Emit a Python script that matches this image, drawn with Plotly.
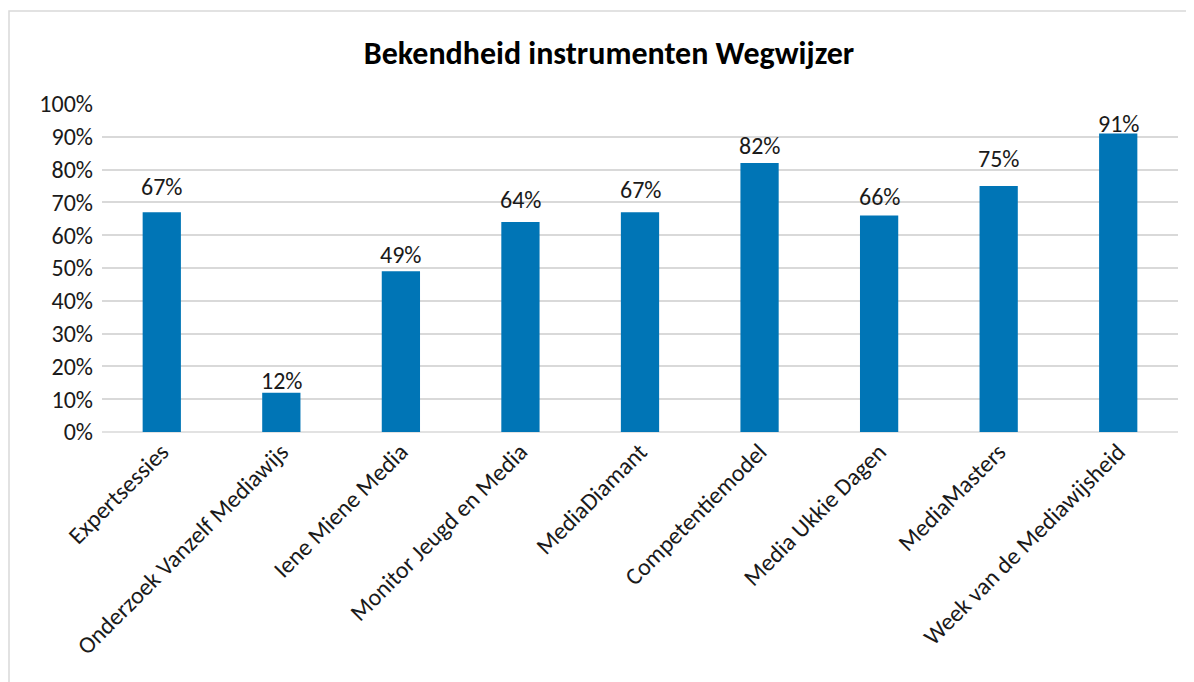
import plotly.graph_objects as go

categories = ["Expertsessies", "Onderzoek Vanzelf Mediawijs", "Iene Miene Media",
              "Monitor Jeugd en Media", "MediaDiamant", "Competentiemodel",
              "Media Ukkie Dagen", "MediaMasters", "Week van de Mediawijsheid"]
values = [0.67, 0.12, 0.49, 0.64, 0.67, 0.82, 0.66, 0.75, 0.91]
title_text = "Bekendheid instrumenten Wegwijzer"
tick_vals = [i / 10 for i in range(11)]
tick_text = [f"{i*10}%" for i in range(11)]
# gap (px) between bar top and label baseline, as placed in the reference
label_gaps = [17, 4, 8, 14, 14, 9, 11, 19, 2]

OFF = 8  # page body margin
W, H = 1194 - OFF, 682 - OFF
L, R, T, B = 102 - OFF, 1178 - OFF, 104 - OFF, 432 - OFF
pw, ph = R - L, B - T

def px(x):
    return (x - L) / pw

def py(y):
    return (B - y) / ph

font_fam = "Carlito, Calibri, Lato, sans-serif"

fig = go.Figure(go.Bar(
    x=categories, y=values,
    marker=dict(color="#0075B6", line=dict(width=0)),
    width=0.32,
    hoverinfo="x+y",
))

for c, v, g in zip(categories, values, label_gaps):
    fig.add_annotation(x=c, y=v, xref="x", yref="y", text=f"{round(v*100)}%",
                       showarrow=False, yanchor="bottom", xanchor="center",
                       yshift=g - 7, borderpad=0,
                       font=dict(family=font_fam, size=24, color="#1a1a1a"))

fig.update_layout(
    width=W, height=H,
    margin=dict(l=L, r=W - R, t=T, b=H - B, autoexpand=False),
    paper_bgcolor="white", plot_bgcolor="white",
    title=dict(text=f"<b>{title_text}</b>", x=px(609 - OFF), xref="paper", xanchor="center",
               y=1 - (53 - OFF) / H, yref="container", yanchor="middle",
               font=dict(family=font_fam, size=32, color="#000000")),
    showlegend=False,
    xaxis=dict(showgrid=False, tickangle=-45, showline=False, ticks="", automargin=False,
               tickfont=dict(family=font_fam, size=24, color="#1a1a1a")),
    yaxis=dict(range=[0, 1], tickvals=tick_vals, ticktext=tick_text, automargin=False,
               showgrid=True, gridcolor="#d9d9d9", gridwidth=1.5, zeroline=False,
               showline=False, ticks="", ticklabelstandoff=8,
               tickfont=dict(family=font_fam, size=24, color="#1a1a1a")),
    shapes=[
        dict(type="line", xref="paper", yref="paper", x0=0, x1=1, y0=0, y1=0,
             line=dict(color="#d9d9d9", width=1.5), layer="below"),
        dict(type="rect", xref="paper", yref="paper",
             x0=px(1), x1=px(1400), y0=py(900), y1=py(3),
             line=dict(color="#d9d9d9", width=1.5), fillcolor="rgba(0,0,0,0)"),
    ],
)

fig.write_html("out.html")
